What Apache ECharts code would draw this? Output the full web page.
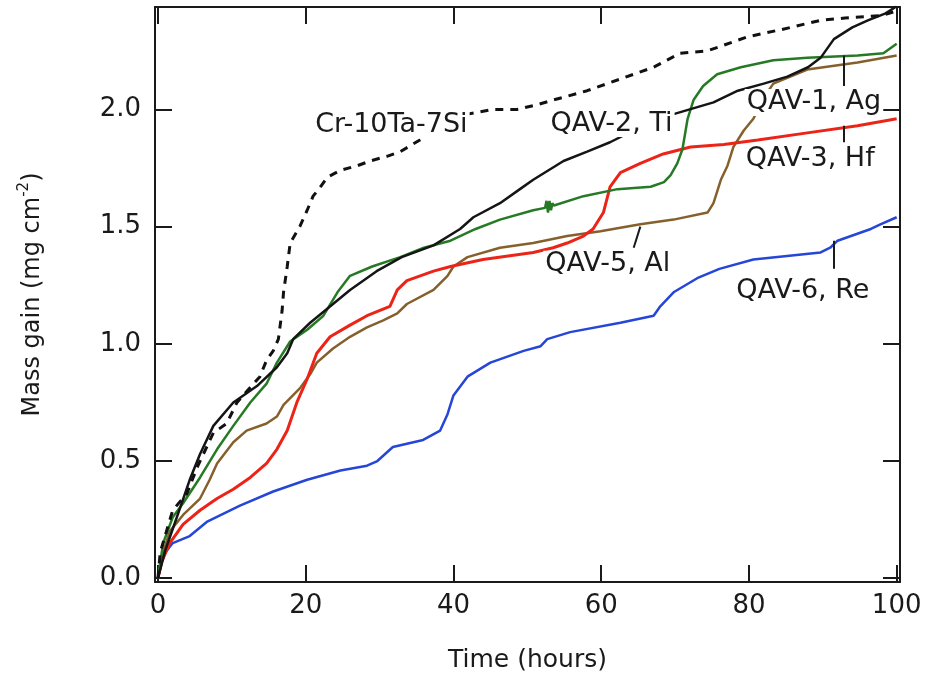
<!DOCTYPE html>
<html>
<head>
<meta charset="utf-8">
<script src="https://cdn.jsdelivr.net/npm/echarts@6/dist/echarts.min.js"></script>
<style>
  html, body { margin: 0; padding: 0; background: #fff; }
  #chart { width: 925px; height: 681px; }
</style>
</head>
<body>
<div id="chart"></div>
<script>
// [hours, mass gain mg/cm2]
const qav2Ti = [[0,0],[0.5,0.06],[1,0.12],[2,0.21],[3,0.3],[4.3,0.42],[5.7,0.53],[7.5,0.65],[10.2,0.75],[13.4,0.82],[16.1,0.9],[17.5,0.96],[18.3,1.02],[20.6,1.09],[23.7,1.17],[26,1.23],[29.6,1.31],[33,1.37],[37.3,1.42],[40.9,1.49],[42.7,1.54],[46.3,1.6],[49,1.66],[50.8,1.7],[54.9,1.78],[58.1,1.82],[61.2,1.86],[65,1.92],[69.8,1.98],[75.2,2.03],[78.5,2.08],[82,2.11],[85.2,2.14],[88,2.18],[89.7,2.22],[91.5,2.3],[94,2.35],[96.1,2.38],[98.5,2.41],[100,2.44]];
const qav1Ag = [[0,0],[0.7,0.15],[2,0.26],[3.4,0.32],[5.7,0.43],[8,0.55],[10.2,0.65],[12.5,0.75],[14.7,0.83],[16.1,0.92],[17.9,1.01],[20.2,1.06],[22.4,1.12],[24.3,1.22],[26,1.29],[29,1.33],[32.8,1.37],[36,1.41],[39.6,1.44],[43,1.49],[46.3,1.53],[50.8,1.57],[52.4,1.58],[52.6,1.61],[52.8,1.56],[53,1.61],[53.2,1.57],[53.4,1.6],[53.6,1.59],[57.6,1.63],[62.2,1.66],[66.7,1.67],[68.5,1.69],[69.4,1.72],[70.3,1.77],[71,1.83],[71.7,1.96],[72.5,2.04],[73.8,2.1],[75.7,2.15],[78.9,2.18],[83.3,2.21],[87.9,2.22],[94.7,2.23],[98.2,2.24],[100,2.28]];
const qav5Al = [[0,0],[0.8,0.12],[1.6,0.2],[3.4,0.27],[5.7,0.34],[7,0.42],[8,0.49],[10.2,0.58],[12,0.63],[14.7,0.66],[16.1,0.69],[17,0.74],[19.2,0.81],[20.6,0.87],[21.5,0.92],[23.7,0.98],[26,1.03],[28.3,1.07],[30.5,1.1],[32.4,1.13],[33.7,1.17],[37.3,1.23],[39.2,1.29],[40,1.33],[41.9,1.37],[46.3,1.41],[50.8,1.43],[55.4,1.46],[59.9,1.48],[65.3,1.51],[69.8,1.53],[74.4,1.56],[75.2,1.6],[76.2,1.7],[77.1,1.76],[77.9,1.84],[79.3,1.91],[80.6,1.96],[82,2.05],[83.3,2.11],[87.9,2.17],[94.7,2.2],[100,2.23]];
const qav3Hf = [[0,0],[0.5,0.07],[1.6,0.15],[3.4,0.23],[5.7,0.29],[8,0.34],[10.2,0.38],[12.5,0.43],[14.7,0.49],[16.1,0.55],[17.5,0.63],[18.8,0.75],[20.2,0.85],[21.5,0.96],[23.3,1.03],[26,1.08],[28.3,1.12],[31.4,1.16],[32.4,1.23],[33.7,1.27],[37.3,1.31],[39.6,1.33],[44,1.36],[50.8,1.39],[53.5,1.41],[55.4,1.43],[57.6,1.46],[58.9,1.49],[60.3,1.56],[61.2,1.67],[62.6,1.73],[65.3,1.77],[68.4,1.81],[72.1,1.84],[76.6,1.85],[81.2,1.87],[87.9,1.9],[94.7,1.93],[100,1.96]];
const qav6Re = [[0,0],[0.5,0.07],[1,0.11],[2,0.15],[4.3,0.18],[6.6,0.24],[11.1,0.31],[15.6,0.37],[20.2,0.42],[24.7,0.46],[28.3,0.48],[29.7,0.5],[31.8,0.56],[35.9,0.59],[38.2,0.63],[39.2,0.7],[40,0.78],[41.9,0.86],[45,0.92],[49.5,0.97],[51.8,0.99],[52.7,1.02],[55.8,1.05],[62.6,1.09],[67.1,1.12],[68,1.16],[69.8,1.22],[73,1.28],[76,1.32],[80.6,1.36],[89.7,1.39],[91,1.41],[92,1.44],[96.5,1.49],[97.8,1.51],[100,1.54]];
const crTaSi = [[0,0],[0.3,0.11],[2,0.29],[3.9,0.36],[5.4,0.48],[7.5,0.62],[9.3,0.66],[10.7,0.75],[13.8,0.86],[14.7,0.93],[15.6,0.97],[16.3,1.02],[16.8,1.14],[17,1.22],[17.5,1.33],[17.9,1.43],[19.2,1.5],[20.2,1.57],[21,1.63],[22,1.67],[22.9,1.71],[24.7,1.74],[27,1.76],[28.7,1.78],[31,1.8],[32.8,1.82],[36,1.88],[39,1.94],[41.9,1.98],[45.4,2.0],[48.6,2.0],[51.3,2.02],[53.5,2.04],[58.1,2.08],[62.6,2.13],[67.1,2.18],[70.7,2.24],[74.4,2.25],[79.8,2.31],[84.3,2.34],[89.7,2.38],[93,2.39],[97.8,2.4],[100,2.42]];

const xTicks = [0, 20, 40, 60, 80, 100];
const yTicks = [0, 0.5, 1.0, 1.5, 2.0];

// curve labels: [hours, gain, text]
const curveLabels = [
  [31.6, 1.935, 'Cr-10Ta-7Si'],
  [61.4, 1.94, 'QAV-2, Ti'],
  [88.8, 2.03, 'QAV-1, Ag'],
  [88.3, 1.79, 'QAV-3, Hf'],
  [60.9, 1.34, 'QAV-5, Al'],
  [87.3, 1.225, 'QAV-6, Re'],
];
// leader lines: [[h1, g1], [h2, g2]]
const leaders = [
  [[92.8, 2.23], [92.8, 2.10]],
  [[92.8, 1.93], [92.8, 1.86]],
  [[65.3, 1.50], [64.4, 1.41]],
  [[91.5, 1.44], [91.5, 1.32]],
];

const chart = echarts.init(document.getElementById('chart'), null, { renderer: 'canvas' });

const font = 'DejaVu Sans';
const axisColor = '#1a1a1a';

function curve(name, data, color, width, dashed) {
  return {
    name,
    type: 'line',
    data,
    showSymbol: false,
    smooth: false,
    lineStyle: { color, width, type: dashed ? [8, 7] : 'solid' },
    z: dashed ? 3 : 2,
  };
}

const baseX = {
  type: 'value',
  min: -0.4,
  max: 100.45,
  axisLine: { show: true, onZero: false, lineStyle: { color: axisColor, width: 2 } },
  axisTick: { inside: true, length: 17, customValues: xTicks, lineStyle: { color: axisColor, width: 2 } },
  splitLine: { show: false },
};
const baseY = {
  type: 'value',
  min: -0.016,
  max: 2.437,
  axisLine: { show: true, onZero: false, lineStyle: { color: axisColor, width: 2 } },
  axisTick: { inside: true, length: 17, customValues: yTicks, lineStyle: { color: axisColor, width: 2 } },
  splitLine: { show: false },
};

chart.setOption({
  animation: false,
  backgroundColor: '#fff',
  grid: { left: 155, right: 25, top: 7, bottom: 99 },
  xAxis: [
    Object.assign({}, baseX, {
      position: 'bottom',
      name: 'Time (hours)',
      nameLocation: 'middle',
      nameGap: 66,
      nameTextStyle: { fontFamily: font, fontSize: 25, color: '#1a1a1a' },
      axisLabel: { customValues: xTicks, fontFamily: font, fontSize: 26, color: '#1a1a1a', margin: 11 },
    }),
    Object.assign({}, baseX, { position: 'top', axisLabel: { show: false } }),
  ],
  yAxis: [
    Object.assign({}, baseY, {
      position: 'left',
      name: '{a|Mass gain (mg cm}{s|-2}{a|)}',
      nameLocation: 'middle',
      nameGap: 106,
      nameTextStyle: {
        color: '#1a1a1a',
        rich: {
          a: { fontFamily: font, fontSize: 24, color: '#1a1a1a', lineHeight: 32 },
          s: { fontFamily: font, fontSize: 15, color: '#1a1a1a', verticalAlign: 'top', lineHeight: 32 },
        },
      },
      axisLabel: {
        customValues: yTicks,
        fontFamily: font,
        fontSize: 26,
        color: '#1a1a1a',
        margin: 14,
        formatter: (v) => v.toFixed(1),
      },
    }),
    Object.assign({}, baseY, { position: 'right', axisLabel: { show: false } }),
  ],
  series: [
    curve('QAV-6, Re', qav6Re, '#2546d6', 2.5),
    curve('QAV-5, Al', qav5Al, '#86602c', 2.5),
    curve('QAV-3, Hf', qav3Hf, '#ec2418', 3),
    curve('QAV-1, Ag', qav1Ag, '#267a26', 2.5),
    curve('QAV-2, Ti', qav2Ti, '#151515', 2.5),
    curve('Cr-10Ta-7Si', crTaSi, '#111', 3, true),
    {
      name: 'labels',
      type: 'scatter',
      symbolSize: 0,
      silent: true,
      z: 10,
      itemStyle: { opacity: 1 },
      data: curveLabels.map((d) => ({ value: [d[0], d[1]], name: d[2] })),
      label: {
        show: true,
        position: 'inside',
        formatter: (p) => p.name,
        fontFamily: font,
        fontSize: 27,
        color: '#1a1a1a',
        backgroundColor: '#fff',
        padding: [0, 2],
      },
      markLine: {
        silent: true,
        symbol: 'none',
        label: { show: false },
        lineStyle: { color: '#1a1a1a', width: 2, type: 'solid' },
        data: leaders.map((l) => [{ coord: l[0] }, { coord: l[1] }]),
      },
    },
  ],
});
</script>
</body>
</html>
